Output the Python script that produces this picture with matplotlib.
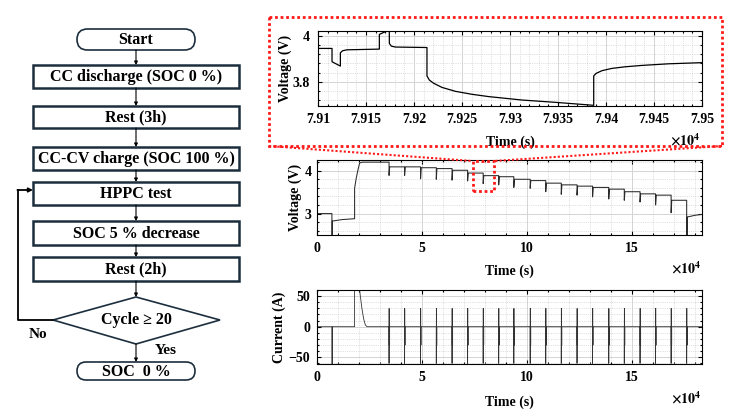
import matplotlib
matplotlib.use('Agg')
import matplotlib.pyplot as plt
from matplotlib.patches import Rectangle, FancyBboxPatch, Polygon
from matplotlib.ticker import MultipleLocator, FixedLocator

plt.rcParams['font.family'] = ['Liberation Serif', 'DejaVu Serif']
plt.rcParams['font.weight'] = 'bold'
plt.rcParams['mathtext.fontset'] = 'stix'

# ---- flowchart text ----
step_labels = ['CC discharge (SOC 0 %)', 'Rest (3h)', 'CC-CV charge (SOC 100 %)',
               'HPPC test', 'SOC 5 % decrease', 'Rest (2h)']
start_label = 'Start'
end_label = 'SOC  0 %'
decision_label = 'Cycle \u2265 20'

# ---- zoomed voltage (s, V) ----
zoom_t = [79100.0, 79114.6, 79114.6, 79123.3, 79123.3, 79125.7, 79130.2, 79163.9,
          79163.9, 79168.4, 79171.9, 79174.3, 79174.3, 79176.4, 79180.6, 79213.5,
          79213.5, 79216.0, 79220.5, 79229.2, 79243.1, 79260.4, 79277.8, 79312.5,
          79347.2, 79387.2, 79387.2, 79389.6, 79395.8, 79406.2, 79420.1, 79437.5,
          79465.3, 79500.0]
zoom_v = [3.945, 3.945, 3.887, 3.868, 3.926, 3.935, 3.939, 3.942,
          4.006, 4.015, 4.020, 4.020, 3.967, 3.955, 3.951, 3.949,
          3.825, 3.807, 3.793, 3.775, 3.758, 3.745, 3.735, 3.720,
          3.710, 3.697, 3.825, 3.836, 3.848, 3.858, 3.865, 3.871,
          3.878, 3.883]

# ---- full test: before HPPC (s, V) and (s, A) ----
pre_t = [0, 7100, 7100, 7300, 7300, 12000, 17900, 17900, 18700, 19500, 20300, 21500]
pre_v = [3.0, 3.0, 2.40, 2.40, 2.825, 2.86, 2.88, 3.59, 3.83, 4.02, 4.18, 4.20]
pre_ct = [0, 7100, 7100, 7300, 7300, 17900, 17900, 20300, 20300, 20600, 21400, 22200, 23000, 23800]
pre_c = [0, 0, -65, -65, 0, 0, 65, 65, 60, 51, 29.5, 13, 3, 0]

# HPPC pulse start times (s), rest levels and pulse dips (V)
pulse_t = [34300, 41700, 49300, 56800, 64300, 71700, 79115, 86500, 93700, 101500,
           108900, 116300, 123800, 131200, 138900, 146300, 153800, 161200, 168600, 176000]
rest_v = [4.20, 4.09, 4.09, 4.07, 4.05, 4.01, 3.945, 3.885, 3.86, 3.80,
          3.77, 3.71, 3.67, 3.64, 3.61, 3.57, 3.51, 3.46, 3.43, 3.31]
dip_v = [3.89, 3.89, 3.81, 3.80, 3.78, 3.76, 3.70, 3.67, 3.61, 3.59,
         3.51, 3.45, 3.43, 3.39, 3.34, 3.31, 3.27, 3.20, 3.02, 2.40]
# one pulse group: offsets (s) and current levels (A)
pulse_off = [0, 10, 49, 59, 98, 272]
pulse_cur = [-60, 0, 30, 0, -30, 0]
# after the last pulse (s, V)
tail_t = [176300, 176300, 180000, 183300]
tail_v = [2.40, 2.92, 2.96, 2.98]

# build step series
volt_t = list(pre_t)
volt_v = list(pre_v)
for i, t0 in enumerate(pulse_t):
    volt_t += [t0, t0]
    volt_v += [rest_v[i], dip_v[i]]
    if i + 1 < len(rest_v):
        volt_t += [t0 + 300]
        volt_v += [rest_v[i + 1]]
volt_t += tail_t
volt_v += tail_v

cur_t = list(pre_ct)
cur_c = list(pre_c)
for t0 in pulse_t:
    prev = 0
    for off, c in zip(pulse_off, pulse_cur):
        cur_t += [t0 + off, t0 + off]
        cur_c += [prev, c]
        prev = c
cur_t.append(183300)
cur_c.append(0)

W, H = 740, 420
fig = plt.figure(figsize=(W / 100, H / 100), dpi=100)


def px_axes(x0, y0, x1, y1):
    return fig.add_axes([x0 / W, 1 - y1 / H, (x1 - x0) / W, (y1 - y0) / H])


def style(ax, ypad=3):
    ax.tick_params(which='both', direction='in', top=True, right=True, width=0.8,
                   labelsize=10, colors='k')
    ax.tick_params(which='major', length=3)
    ax.tick_params(which='minor', length=1.5)
    ax.tick_params(axis='x', pad=5)
    ax.tick_params(axis='y', pad=ypad)
    ax.grid(which='major', color='#d4d4d4', lw=0.7, ls='-')
    ax.grid(which='minor', color='#c4c4c4', lw=0.5, ls=':')
    ax.set_axisbelow(True)
    for s in ax.spines.values():
        s.set_linewidth(0.8)
    for lab in ax.get_xticklabels() + ax.get_yticklabels():
        lab.set_fontweight('bold')


# ---- zoomed panel ----
ax1 = px_axes(318, 31, 702, 106)
ax1.plot([t / 1e4 for t in zoom_t], zoom_v, color='k', lw=0.9)
ax1.set_xlim(7.91, 7.95)
ax1.set_ylim(3.694, 4.021)
ax1.xaxis.set_major_locator(FixedLocator([7.91, 7.915, 7.92, 7.925, 7.93, 7.935, 7.94, 7.945, 7.95]))
ax1.set_xticklabels(['7.91', '7.915', '7.92', '7.925', '7.93', '7.935', '7.94', '7.945', '7.95'])
ax1.xaxis.set_minor_locator(MultipleLocator(0.001))
ax1.yaxis.set_major_locator(FixedLocator([3.8, 4.0]))
ax1.set_yticklabels(['3.8', '4'])
ax1.yaxis.set_minor_locator(MultipleLocator(0.04))
style(ax1, ypad=6)
ax1.set_xlabel('Time (s)', fontsize=10, fontweight='bold')
ax1.set_ylabel('Voltage (V)', fontsize=10, fontweight='bold')
ax1.xaxis.set_label_coords(0.5, -0.40)
ax1.yaxis.set_label_coords(-0.068, 0.5)
ax1.text(0.956, -0.46, r'$\times10^{4}$', transform=ax1.transAxes, ha='center',
         va='center', fontsize=10)

# ---- full voltage ----
ax2 = px_axes(317, 160, 702, 235)
ax2.plot([t / 1e4 for t in volt_t], volt_v, color='#2a2a2a', lw=0.75)
ax2.set_xlim(0, 18.33)
ax2.set_ylim(2.5, 4.25)
ax2.xaxis.set_major_locator(FixedLocator([0, 5, 10, 15]))
ax2.xaxis.set_minor_locator(MultipleLocator(1))
ax2.yaxis.set_major_locator(FixedLocator([3, 4]))
ax2.yaxis.set_minor_locator(MultipleLocator(0.2))
style(ax2, ypad=4)
ax2.set_xlabel('Time (s)', fontsize=10, fontweight='bold')
ax2.set_ylabel('Voltage (V)', fontsize=10, fontweight='bold')
ax2.xaxis.set_label_coords(0.5, -0.40)
ax2.yaxis.set_label_coords(-0.040, 0.5)
ax2.text(0.96, -0.44, r'$\times10^{4}$', transform=ax2.transAxes, ha='center',
         va='center', fontsize=10)
ax2.add_patch(Rectangle((7.43, 3.53), 0.98, 0.69, fill=False, ec='#ff1a1a', lw=2,
                        ls=(0, (1, 1)), clip_on=False, zorder=6))

# ---- current ----
ax3 = px_axes(317, 290, 702, 364)
ax3.plot([t / 1e4 for t in cur_t], cur_c, color='#333333', lw=0.6)
ax3.set_xlim(0, 18.33)
ax3.set_ylim(-61, 60)
ax3.xaxis.set_major_locator(FixedLocator([0, 5, 10, 15]))
ax3.xaxis.set_minor_locator(MultipleLocator(1))
ax3.yaxis.set_major_locator(FixedLocator([-50, 0, 50]))
ax3.yaxis.set_minor_locator(MultipleLocator(10))
style(ax3, ypad=5)
ax3.set_xlabel('Time (s)', fontsize=10, fontweight='bold')
ax3.set_ylabel('Current (A)', fontsize=10, fontweight='bold')
ax3.xaxis.set_label_coords(0.5, -0.42)
ax3.yaxis.set_label_coords(-0.080, 0.5)
ax3.text(0.96, -0.46, r'$\times10^{4}$', transform=ax3.transAxes, ha='center',
         va='center', fontsize=10)

# ---- overlay: flowchart + zoom frame ----
ov = fig.add_axes([0, 0, 1, 1])
ov.set_xlim(0, W)
ov.set_ylim(H, 0)
ov.axis('off')
ov.set_zorder(5)

edge = '#1c2e3d'
cx = 136
boxes = [(65, 88), (106, 128), (147, 170), (182, 205), (221, 245), (257, 281)]
for (y0, y1), lab in zip(boxes, step_labels):
    ov.add_patch(Rectangle((33, y0), 206, y1 - y0, fill=False, ec=edge, lw=1.8))
    ov.text(cx, (y0 + y1) / 2 + 0.5, lab, ha='center', va='center', fontsize=11.5,
            fontweight='bold')

for (y0, y1), lab in [((29, 50), start_label), ((362, 380), end_label)]:
    ov.add_patch(FancyBboxPatch((77, y0), 118, y1 - y0,
                                boxstyle='round,pad=0,rounding_size=%g' % ((y1 - y0) / 2),
                                fill=False, ec=edge, lw=1.2))
    ov.text(cx, (y0 + y1) / 2 + 0.5, lab, ha='center', va='center', fontsize=11.5,
            fontweight='bold')

ov.add_patch(Polygon([(53, 320), (cx, 297), (220, 320), (cx, 344)], closed=True,
                     fill=False, ec=edge, lw=1.2))
ov.text(cx, 320, decision_label, ha='center', va='center', fontsize=11.5, fontweight='bold')
ov.text(38, 335, 'No', ha='center', va='center', fontsize=11, fontweight='bold')
ov.text(166, 351, 'Yes', ha='center', va='center', fontsize=11, fontweight='bold')

arrows = [(50, 65), (88, 106), (128, 147), (170, 182), (205, 221), (245, 257),
          (281, 297), (344, 362)]
for ya, yb in arrows:
    ov.annotate('', xy=(cx, yb), xytext=(cx, ya),
                arrowprops=dict(arrowstyle='-|>', color='k', lw=0.8, mutation_scale=5,
                                shrinkA=0, shrinkB=0))

ov.plot([53, 18, 18], [320, 320, 190], color='k', lw=1.3)
ov.annotate('', xy=(33, 190), xytext=(17.4, 190),
            arrowprops=dict(arrowstyle='-|>', color='k', lw=1.3, mutation_scale=6,
                            shrinkA=0, shrinkB=0))

red = '#ff1a1a'
ov.add_patch(Rectangle((269, 17), 453, 129, fill=False, ec=red, lw=2, ls=(0, (1, 1))))
ov.plot([269, 472], [146, 161], color=red, lw=1.5, ls=(0, (1, 1)))
ov.plot([722, 494], [146, 161], color=red, lw=1.5, ls=(0, (1, 1)))

fig.savefig('out.png', dpi=100)
